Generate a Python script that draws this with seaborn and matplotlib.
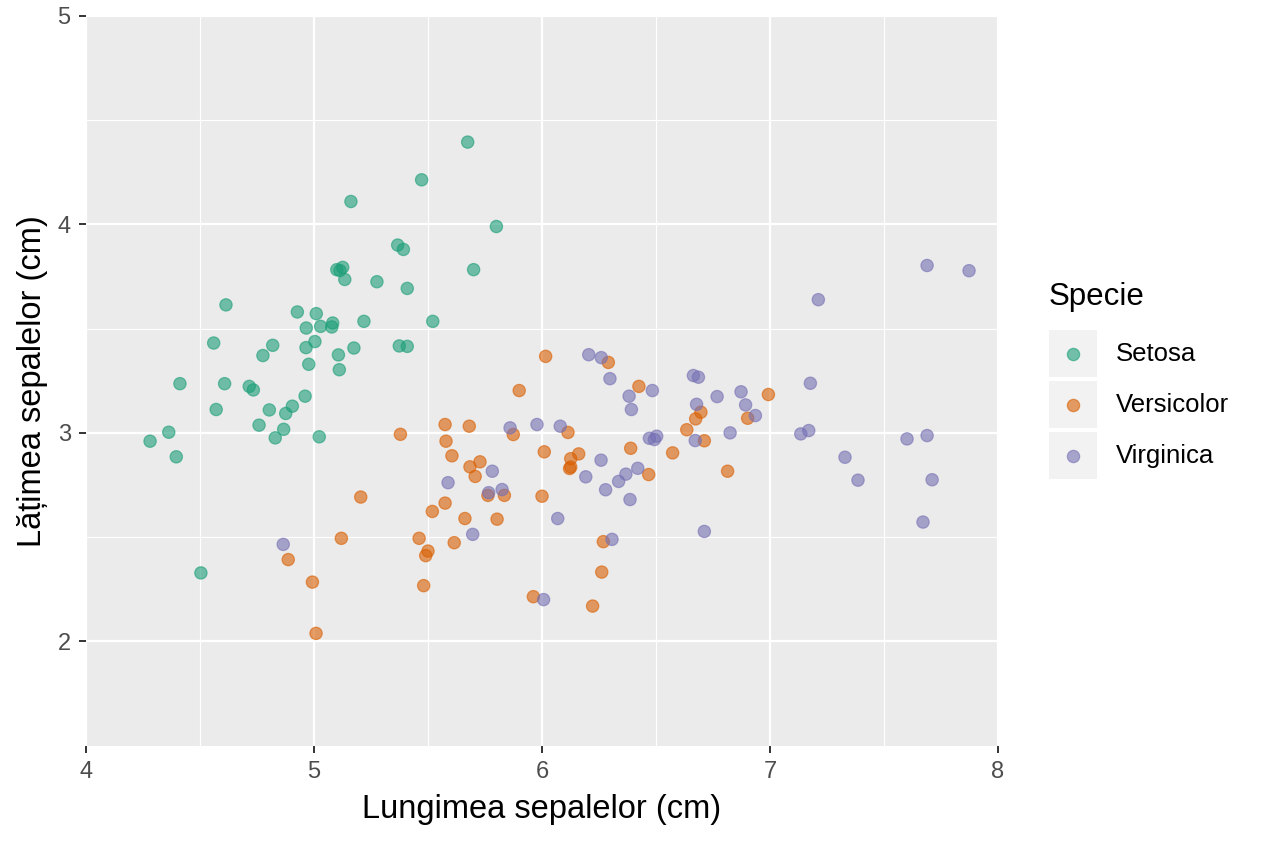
import numpy as np
import pandas as pd
import matplotlib
matplotlib.use("Agg")
import matplotlib.pyplot as plt
from matplotlib.patches import Rectangle
import seaborn as sns

# valori (puncte cu jitter)
species = ["Setosa", "Versicolor", "Virginica"]
colors = ["#1B9E77", "#D95F02", "#7570B3"]

setosa_x = [5.674, 5.472, 5.162, 5.800, 5.367, 5.392, 5.100, 5.126, 5.114, 5.135,
            5.276, 5.409, 5.700, 4.614, 4.927, 5.010, 4.966, 5.029, 5.082, 5.078,
            5.219, 5.521, 4.560, 4.819, 4.776, 4.965, 5.004, 5.175, 5.374, 5.409,
            5.107, 4.977, 5.111, 4.412, 4.608, 4.716, 4.734, 4.571, 4.804, 4.905,
            4.876, 4.961, 4.759, 4.867, 4.363, 4.830, 5.023, 4.281, 4.396, 4.504]
setosa_y = [4.395, 4.214, 4.110, 3.990, 3.901, 3.880, 3.783, 3.794, 3.779, 3.736,
            3.725, 3.693, 3.783, 3.614, 3.580, 3.572, 3.503, 3.511, 3.527, 3.508,
            3.535, 3.535, 3.431, 3.420, 3.371, 3.409, 3.438, 3.407, 3.417, 3.415,
            3.374, 3.329, 3.303, 3.236, 3.236, 3.223, 3.206, 3.112, 3.110, 3.128,
            3.093, 3.176, 3.037, 3.017, 3.003, 2.976, 2.981, 2.960, 2.885, 2.328]

versicolor_x = [6.016, 5.900, 5.379, 5.575, 5.681, 5.579, 5.605, 5.728, 5.684, 5.707,
                5.874, 6.010, 6.114, 6.126, 6.161, 6.121, 6.126, 5.205, 5.575, 5.519,
                5.662, 5.803, 5.763, 5.835, 6.000, 5.120, 5.461, 5.615, 5.500, 5.490,
                4.887, 4.993, 5.481, 5.962, 6.222, 5.009, 6.291, 6.425, 6.993, 6.697,
                6.674, 6.902, 6.635, 6.712, 6.389, 6.573, 6.468, 6.814, 6.269, 6.262]
versicolor_y = [3.367, 3.203, 2.993, 3.040, 3.032, 2.960, 2.890, 2.861, 2.837, 2.791,
                2.992, 2.909, 3.002, 2.876, 2.899, 2.829, 2.836, 2.692, 2.663, 2.623,
                2.589, 2.586, 2.700, 2.700, 2.696, 2.494, 2.494, 2.473, 2.433, 2.411,
                2.392, 2.284, 2.267, 2.214, 2.169, 2.038, 3.338, 3.223, 3.184, 3.099,
                3.067, 3.070, 3.015, 2.962, 2.926, 2.904, 2.800, 2.816, 2.478, 2.332]

virginica_x = [6.205, 5.860, 5.978, 6.080, 5.782, 5.588, 5.766, 5.825, 6.192, 6.069,
               5.696, 4.865, 6.007, 6.260, 6.298, 6.382, 6.392, 6.484, 6.664, 6.686,
               6.678, 6.768, 6.873, 6.893, 6.936, 6.825, 6.672, 6.471, 6.503, 6.493,
               7.177, 7.135, 7.170, 6.259, 6.279, 6.336, 6.368, 6.420, 6.386, 6.712,
               6.307, 7.689, 7.873, 7.212, 7.329, 7.386, 7.601, 7.689, 7.711, 7.671]
virginica_y = [3.375, 3.024, 3.040, 3.032, 2.816, 2.761, 2.713, 2.728, 2.789, 2.589,
               2.513, 2.465, 2.200, 3.361, 3.260, 3.176, 3.112, 3.203, 3.275, 3.267,
               3.137, 3.174, 3.197, 3.134, 3.083, 3.000, 2.963, 2.974, 2.984, 2.968,
               3.238, 2.995, 3.011, 2.869, 2.727, 2.767, 2.802, 2.830, 2.680, 2.527,
               2.489, 3.803, 3.778, 3.639, 2.883, 2.773, 2.971, 2.987, 2.775, 2.572]

x_ticks = [4, 5, 6, 7, 8]
y_ticks = [2, 3, 4, 5]

df = pd.concat([
    pd.DataFrame({"x": setosa_x, "y": setosa_y, "Specie": "Setosa"}),
    pd.DataFrame({"x": versicolor_x, "y": versicolor_y, "Specie": "Versicolor"}),
    pd.DataFrame({"x": virginica_x, "y": virginica_y, "Specie": "Virginica"}),
], ignore_index=True)

palette = dict(zip(species, colors))

plt.rcParams["font.family"] = ["Liberation Sans", "DejaVu Sans"]

W, H = 1264, 843
fig = plt.figure(figsize=(W / 100, H / 100), dpi=100)
ax = fig.add_axes([86 / W, 1 - 745.5 / H, (998 - 86) / W, (745.5 - 16) / H])
ax.set_facecolor("#EBEBEB")

sns.scatterplot(
    data=df, x="x", y="y", hue="Specie", palette=palette,
    s=78, alpha=0.6, linewidth=0.9, legend=False, ax=ax, zorder=3
)
# contur in aceeasi culoare
for coll in ax.collections:
    coll.set_edgecolor(coll.get_facecolor())

ax.set_xlim(4, 8)
ax.set_ylim(1.5, 5)
ax.set_xticks(x_ticks)
ax.set_yticks(y_ticks)
ax.set_xticks([4.5, 5.5, 6.5, 7.5], minor=True)
ax.set_yticks([2.5, 3.5, 4.5], minor=True)
ax.grid(which="major", color="white", linewidth=1.6, zorder=0)
ax.grid(which="minor", color="white", linewidth=0.8, zorder=0)
ax.set_axisbelow(True)
for sp in ax.spines.values():
    sp.set_visible(False)
ax.tick_params(which="major", length=5, width=1.4, color="#333333",
               labelsize=17, labelcolor="#4D4D4D", pad=6)
ax.tick_params(which="minor", length=0)

ax.set_xlabel("Lungimea sepalelor (cm)", fontsize=23.5, labelpad=8)
ax.set_ylabel("Lățimea sepalelor (cm)", fontsize=23.5, labelpad=7)

# legenda in stil ggplot
lax = fig.add_axes([1040 / W, 1 - 490 / H, 224 / W, 210 / H])
lax.set_xlim(1040, 1264)
lax.set_ylim(490, 280)
lax.axis("off")
lax.text(1049, 297, "Specie", fontsize=22.5, va="center", ha="left")
for i, (name, col) in enumerate(zip(species, colors)):
    top = 330 + i * 51
    lax.add_patch(Rectangle((1049, top), 48, 47, facecolor="#F2F2F2",
                            edgecolor="none"))
    lax.scatter([1073], [top + 23.5], s=78, color=col, alpha=0.6,
                edgecolors=col, linewidths=0.9, zorder=3)
    lax.text(1116, top + 24, name, fontsize=18.5, va="center", ha="left")

fig.savefig("out.png", dpi=100)
